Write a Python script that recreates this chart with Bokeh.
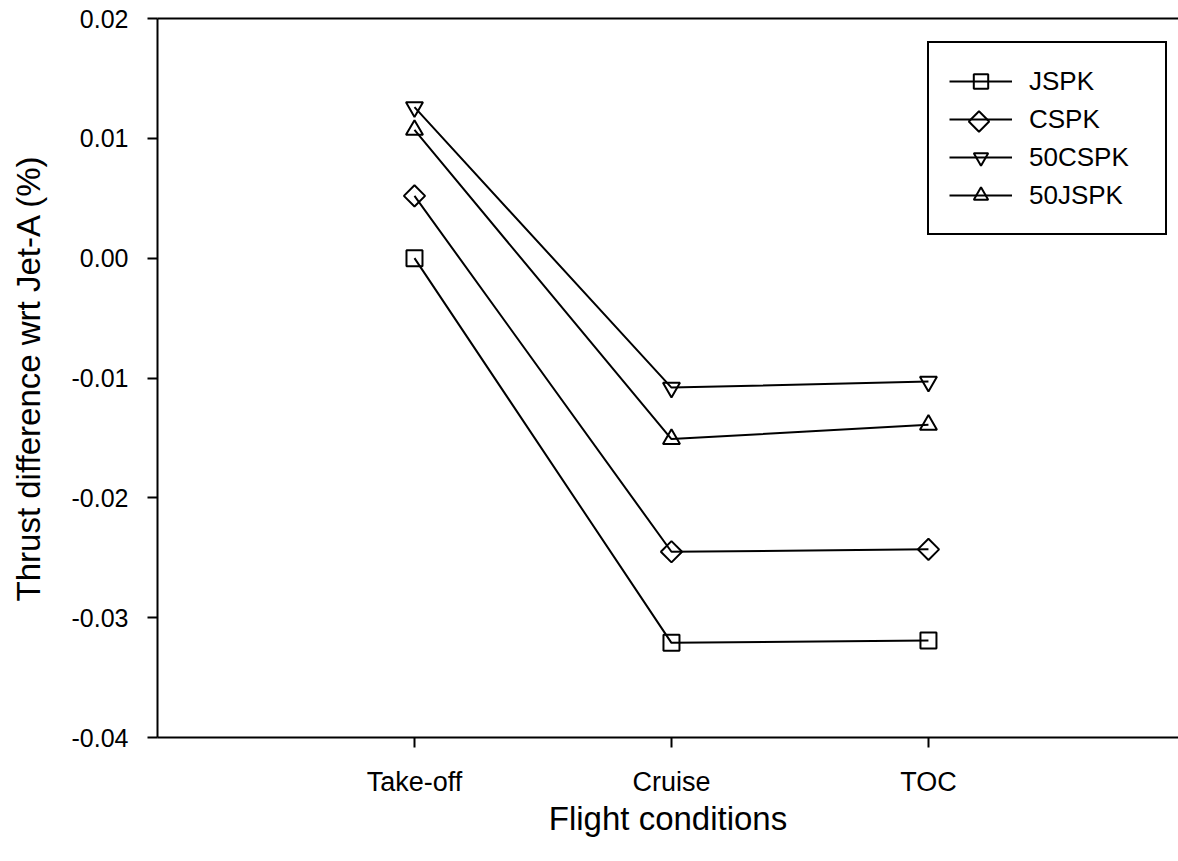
import math
from bokeh.plotting import figure
from bokeh.models import (Range1d, FixedTicker, PrintfTickFormatter, LinearAxis, Legend)
from bokeh.embed import file_html
from bokeh.resources import INLINE

# ---- data ----
categories = ["Take-off", "Cruise", "TOC"]
series_names = ["JSPK", "CSPK", "50CSPK", "50JSPK"]
jspk = [0.0, -0.0321, -0.0319]
cspk = [0.0052, -0.0245, -0.0243]
c50spk = [0.0126, -0.0108, -0.0103]
j50spk = [0.0107, -0.0151, -0.0139]
y_ticks = [-0.04, -0.03, -0.02, -0.01, 0.0, 0.01, 0.02]

FONT = "Liberation Sans"
x_pos = list(range(1, len(categories) + 1))

W, H = 1178, 861
BL, BR, BT, BB = 157, 0, 18, 124
FW, FH = W - BL - BR, H - BT - BB
X0, X1 = 0.0, 3.973
Y0, Y1 = -0.04, 0.02

p = figure(width=W, height=H, output_backend="svg", toolbar_location=None,
           x_range=Range1d(X0, X1), y_range=Range1d(Y0, Y1),
           min_border_left=BL, min_border_right=BR, min_border_top=BT, min_border_bottom=BB)
p.outline_line_color = None
p.xgrid.visible = False
p.ygrid.visible = False
p.background_fill_color = "white"
p.border_fill_color = "white"

# axes
for ax in (p.xaxis[0], p.yaxis[0]):
    ax.axis_line_width = 2
    ax.axis_line_color = "black"
    ax.major_tick_line_width = 2
    ax.major_tick_line_color = "black"
    ax.major_tick_out = 10
    ax.major_tick_in = 0
    ax.minor_tick_line_color = None
    ax.major_label_text_font = FONT
    ax.major_label_text_color = "black"
    ax.axis_label_text_font = FONT
    ax.axis_label_text_font_size = "33px"
    ax.axis_label_text_font_style = "normal"
    ax.axis_label_text_color = "black"

p.xaxis.ticker = FixedTicker(ticks=x_pos)
p.xaxis.major_label_overrides = {x: c for x, c in zip(x_pos, categories)}
p.xaxis.major_label_text_font_size = "27px"
p.xaxis.major_label_standoff = 19
p.xaxis.axis_label = "Flight conditions"
p.xaxis.axis_label_standoff = 0

p.yaxis.ticker = FixedTicker(ticks=y_ticks)
p.yaxis.formatter = PrintfTickFormatter(format="%.2f")
p.yaxis.major_label_text_font_size = "25px"
p.yaxis.major_label_standoff = 19
p.yaxis.axis_label = "Thrust difference wrt Jet-A (%)"
p.yaxis.axis_label_standoff = 22

top = LinearAxis(ticker=FixedTicker(ticks=[]), axis_line_width=2, axis_line_color="black",
                 major_tick_line_color=None, minor_tick_line_color=None)
p.add_layout(top, "above")

markers = [
    dict(marker="square", size=16, angle=0.0),
    dict(marker="square", size=15, angle=math.pi / 4),
    dict(marker="inverted_triangle", size=17, angle=0.0),
    dict(marker="triangle", size=17, angle=0.0),
]

# legend geometry (screen px, measured from frame bottom-left)
LEG_X, LEG_Y = 770, 502
PAD, SPACING, GW, GH = 20, 2, 63, 36

items = []
for name, ys, m in zip(series_names, [jspk, cspk, c50spk, j50spk], markers):
    l = p.line(x_pos, ys, line_color="black", line_width=2)
    s = p.scatter(x_pos, ys, marker=m["marker"], size=m["size"], angle=m["angle"],
                  fill_color=None, line_color="black", line_width=2)
    if m["angle"] != 0.0:
        items.append((name, [l]))
    else:
        items.append((name, [l, s]))

# rotated-square (diamond) symbol for the CSPK legend entry (Bokeh legends ignore marker angle)
n_items = len(series_names)
leg_h = 2 * PAD + n_items * GH + (n_items - 1) * SPACING
leg_top = LEG_Y + leg_h
cspk_idx = series_names.index("CSPK")
px = LEG_X + PAD + GW / 2
py = leg_top - PAD - cspk_idx * (GH + SPACING) - GH / 2
dx = X0 + px / FW * (X1 - X0)
dy = Y0 + py / FH * (Y1 - Y0)
p.scatter([dx], [dy], marker="square", size=min(GW, GH) * 0.4, angle=math.pi / 4,
          fill_color=None, line_color="black", line_width=2)

legend = Legend(items=items, location=(LEG_X, LEG_Y))
legend.border_line_color = "black"
legend.border_line_alpha = 1.0
legend.border_line_width = 2
legend.background_fill_color = None
legend.background_fill_alpha = 0
legend.padding = PAD
legend.spacing = SPACING
legend.margin = 0
legend.glyph_width = GW
legend.glyph_height = GH
legend.label_height = GH
legend.label_width = 116
legend.label_standoff = 17
legend.label_text_font = FONT
legend.label_text_font_size = "26px"
legend.label_text_color = "black"
p.add_layout(legend, "center")

open("out.html", "w").write(file_html(p, INLINE))
